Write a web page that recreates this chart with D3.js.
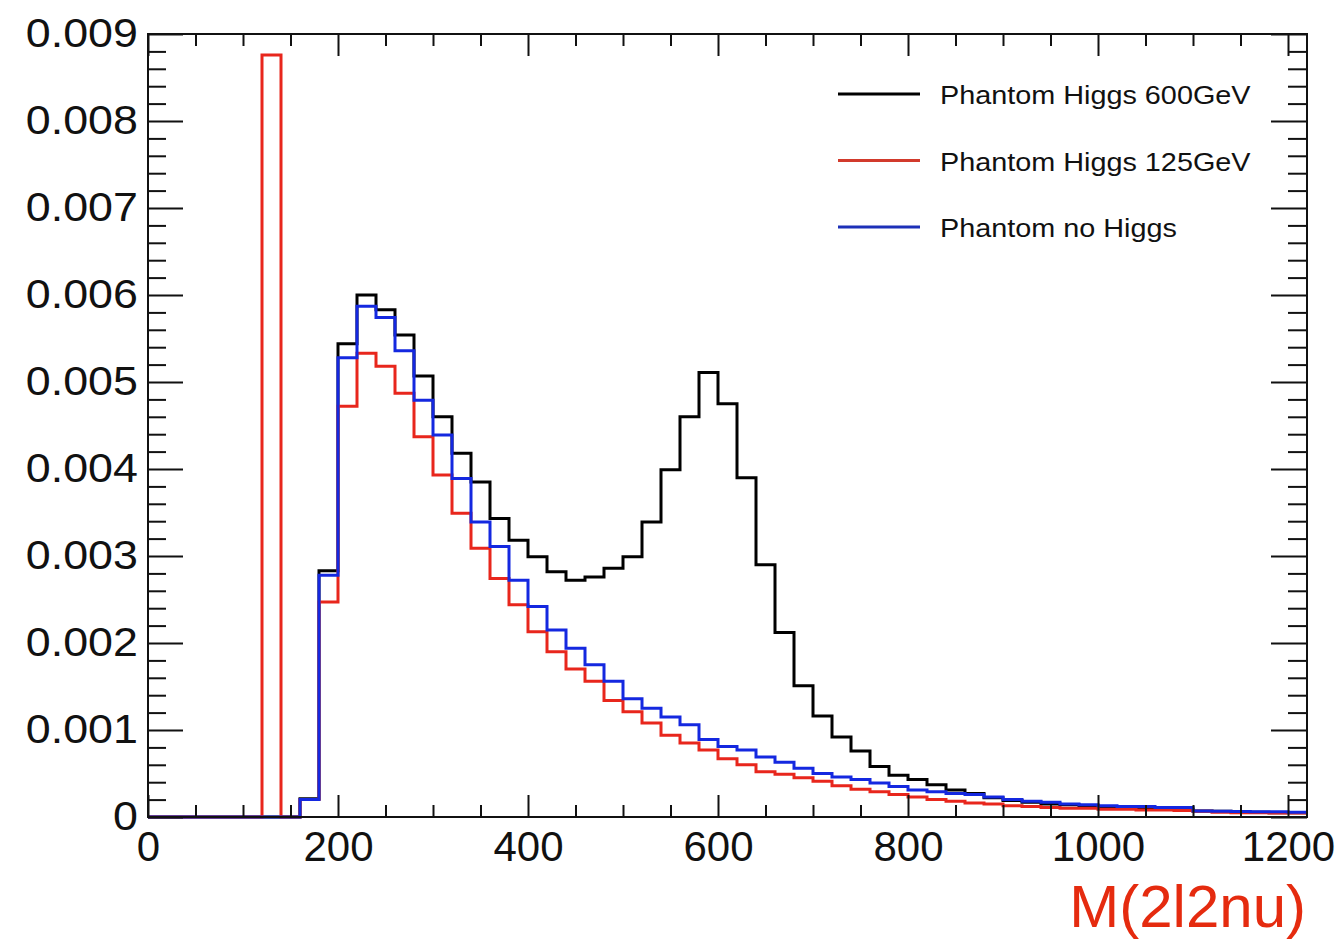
<!DOCTYPE html>
<html>
<head>
<meta charset="utf-8">
<script src="https://cdn.jsdelivr.net/npm/d3@7"></script>
<style>
  html, body { margin: 0; padding: 0; background: #fff; }
  svg { display: block; }
  text { font-family: "Liberation Sans", Arial, Helvetica, sans-serif; fill: #111; }
</style>
</head>
<body>
<svg id="chart"></svg>
<script>
//
// Data (bins of 20 GeV, 0 .. 1220)
//

var binWidth = 20
var binLow = [0, 20, 40, 60, 80, 100, 120, 140, 160, 180,
  200, 220, 240, 260, 280, 300, 320, 340, 360, 380,
  400, 420, 440, 460, 480, 500, 520, 540, 560, 580,
  600, 620, 640, 660, 680, 700, 720, 740, 760, 780,
  800, 820, 840, 860, 880, 900, 920, 940, 960, 980,
  1000, 1020, 1040, 1060, 1080, 1100, 1120, 1140, 1160, 1180,
  1200]

// Phantom Higgs 600GeV
var higgs600 = [0, 0, 0, 0, 0, 0, 0, 0, 0.00021, 0.00283,
  0.00544, 0.00600, 0.00583, 0.00554, 0.00507, 0.00460, 0.00418, 0.00385, 0.00343, 0.00318,
  0.00299, 0.00282, 0.00272, 0.00276, 0.00286, 0.00299, 0.00339, 0.00399, 0.00460, 0.00511,
  0.00475, 0.00390, 0.00290, 0.00212, 0.00151, 0.00116, 0.00092, 0.00076, 0.00058, 0.00048,
  0.00043, 0.00037, 0.00031, 0.00027, 0.00022, 0.00019, 0.00017, 0.00015, 0.00014, 0.00013,
  0.00012, 0.00011, 0.00010, 0.00010, 0.00009, 0.00007, 0.000065, 0.00006, 0.000055, 0.00005,
  0.00005]

// Phantom Higgs 125GeV
var higgs125 = [0, 0, 0, 0, 0, 0, 0.00876, 0, 0.00020, 0.00247,
  0.00472, 0.00533, 0.00518, 0.00487, 0.00437, 0.00393, 0.00349, 0.00309, 0.00274, 0.00244,
  0.00213, 0.00190, 0.00170, 0.00156, 0.00134, 0.00121, 0.00108, 0.00094, 0.00085, 0.00077,
  0.00067, 0.00060, 0.00052, 0.00049, 0.00045, 0.00041, 0.00036, 0.00032, 0.00029, 0.00026,
  0.00023, 0.00020, 0.00018, 0.00016, 0.00015, 0.00013, 0.00012, 0.00011, 0.00010, 0.00010,
  0.00009, 0.00009, 0.00008, 0.00008, 0.000075, 0.000065, 0.000055, 0.00005, 0.00005, 0.000045,
  0.000045]

// Phantom no Higgs
var noHiggs = [0, 0, 0, 0, 0, 0, 0, 0, 0.00020, 0.00278,
  0.00528, 0.00587, 0.00574, 0.00536, 0.00479, 0.00439, 0.00389, 0.00339, 0.00311, 0.00272,
  0.00242, 0.00215, 0.00194, 0.00175, 0.00156, 0.00136, 0.00125, 0.00115, 0.00106, 0.00089,
  0.00081, 0.00077, 0.00069, 0.00063, 0.00056, 0.00050, 0.00046, 0.00043, 0.00039, 0.00035,
  0.00031, 0.00029, 0.00027, 0.00026, 0.00023, 0.00020, 0.00018, 0.00017, 0.00015, 0.00014,
  0.00013, 0.00012, 0.00012, 0.00011, 0.00011, 0.00007, 0.000065, 0.000063, 0.00006, 0.00006,
  0.000055]

var seriesNames = ['Phantom Higgs 600GeV', 'Phantom Higgs 125GeV', 'Phantom no Higgs']
var seriesColors = ['#000000', '#e8261c', '#1428e0']
var legendColors = ['#000000', '#d23a2c', '#1c30b8']

var xTicks = [0, 200, 400, 600, 800, 1000, 1200]
var yTicks = [0, 0.001, 0.002, 0.003, 0.004, 0.005, 0.006, 0.007, 0.008, 0.009]
var xTitle = 'M(2l2nu)'

//
// Layout
//

var width = 1343, height = 939
var frame = { left: 148, right: 1307, top: 34, bottom: 817 }

var svg = d3.select('#chart').attr('width', width).attr('height', height)
svg.append('rect').attr('width', width).attr('height', height).attr('fill', '#fff')

var x = d3.scaleLinear().domain([0, 1220]).range([frame.left, frame.right])
var y = d3.scaleLinear().domain([0, 0.009]).range([frame.bottom, frame.top])

//
// Histograms (step lines)
//

function stepPoints(vals) {
  var pts = binLow.map(function(lo, i) { return [lo, vals[i]] })
  pts.push([binLow[binLow.length - 1] + binWidth, vals[vals.length - 1]])
  return pts
}

var line = d3.line()
  .x(function(d) { return x(d[0]) })
  .y(function(d) { return y(d[1]) })
  .curve(d3.curveStepAfter)

var histG = svg.append('g')
;[higgs600, higgs125, noHiggs].forEach(function(vals, i) {
  histG.append('path')
    .attr('d', line(stepPoints(vals)))
    .attr('fill', 'none')
    .attr('stroke', seriesColors[i])
    .attr('stroke-width', 3)
    .attr('stroke-linejoin', 'miter')
})

//
// Axes (ROOT style: ticks inside, on all four sides)
//

var xMinor = d3.range(0, 1221, 50).filter(function(v) { return v % 200 !== 0 })
var yMinor = d3.range(0, 46).map(function(k) { return k * 0.0002 }).filter(function(v, k) { return k % 5 !== 0 })

function styleAxis(g) {
  g.select('.domain').remove()
  g.selectAll('line').attr('stroke', '#111').attr('stroke-width', 2)
}

// bottom
svg.append('g')
  .attr('transform', 'translate(0,' + frame.bottom + ')')
  .call(d3.axisBottom(x).tickValues(xMinor).tickSize(-12).tickFormat(''))
  .call(styleAxis)
var xAxis = svg.append('g')
  .attr('transform', 'translate(0,' + frame.bottom + ')')
  .call(d3.axisBottom(x).tickValues(xTicks).tickSize(-22).tickPadding(14).tickFormat(d3.format('d')))
  .call(styleAxis)
xAxis.selectAll('text').attr('font-size', 42).attr('fill', '#111')

// top
svg.append('g')
  .attr('transform', 'translate(0,' + frame.top + ')')
  .call(d3.axisTop(x).tickValues(xMinor).tickSize(-12).tickFormat(''))
  .call(styleAxis)
svg.append('g')
  .attr('transform', 'translate(0,' + frame.top + ')')
  .call(d3.axisTop(x).tickValues(xTicks).tickSize(-22).tickFormat(''))
  .call(styleAxis)

// left
svg.append('g')
  .attr('transform', 'translate(' + frame.left + ',0)')
  .call(d3.axisLeft(y).tickValues(yMinor).tickSize(-18).tickFormat(''))
  .call(styleAxis)
var yAxis = svg.append('g')
  .attr('transform', 'translate(' + frame.left + ',0)')
  .call(d3.axisLeft(y).tickValues(yTicks).tickSize(-35).tickPadding(9)
    .tickFormat(function(d) { return d === 0 ? '0' : d3.format('.3f')(d) }))
  .call(styleAxis)
yAxis.selectAll('text')
  .attr('font-size', 40)
  .attr('fill', '#111')
  .attr('transform', 'scale(1.12,1)')

// right
svg.append('g')
  .attr('transform', 'translate(' + frame.right + ',0)')
  .call(d3.axisRight(y).tickValues(yMinor).tickSize(-19).tickFormat(''))
  .call(styleAxis)
svg.append('g')
  .attr('transform', 'translate(' + frame.right + ',0)')
  .call(d3.axisRight(y).tickValues(yTicks).tickSize(-36).tickFormat(''))
  .call(styleAxis)

// frame
svg.append('rect')
  .attr('x', frame.left).attr('y', frame.top)
  .attr('width', frame.right - frame.left).attr('height', frame.bottom - frame.top)
  .attr('fill', 'none').attr('stroke', '#111').attr('stroke-width', 2)

//
// Legend
//

var legend = svg.append('g')
seriesNames.forEach(function(name, i) {
  var ly = 94 + i * 66.5
  legend.append('line')
    .attr('x1', 838).attr('x2', 920).attr('y1', ly).attr('y2', ly)
    .attr('stroke', legendColors[i]).attr('stroke-width', 3)
  legend.append('text')
    .attr('transform', 'translate(940,' + (ly + 10) + ') scale(1.13,1)')
    .attr('font-size', 25.5)
    .attr('fill', '#222')
    .text(name)
})

//
// Axis title
//

svg.append('text')
  .attr('x', 1306).attr('y', 927)
  .attr('text-anchor', 'end')
  .attr('font-family', '"Helvetica Neue", Roboto, "Liberation Sans", sans-serif')
  .attr('font-weight', 300)
  .attr('font-size', 60)
  .style('fill', '#e52b0f')
  .text(xTitle)
</script>
</body>
</html>
